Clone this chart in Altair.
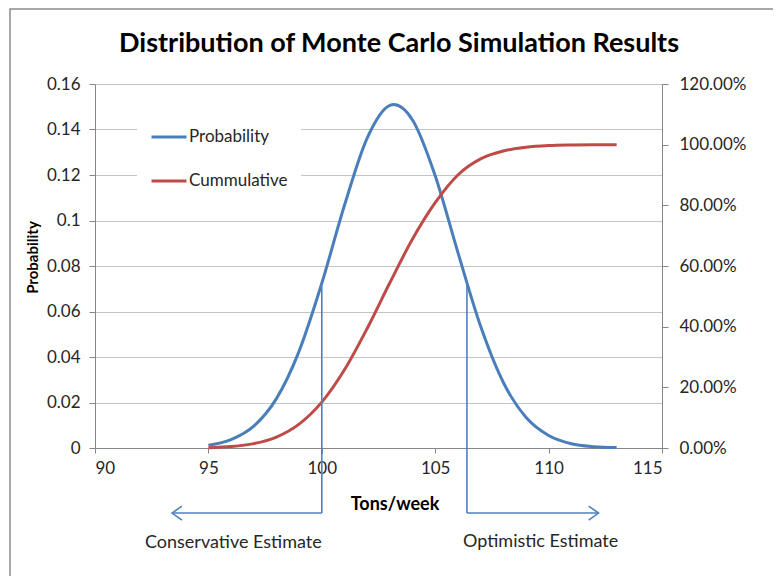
import altair as alt
import pandas as pd

# ---- data ----
tons = [95, 96, 97, 98, 99, 100, 101, 102, 103, 104, 105, 106, 107, 108, 109, 110, 111, 112, 113]
probability = [0.0012, 0.0037, 0.0096, 0.0217, 0.0426, 0.0724, 0.1067, 0.1362, 0.1506, 0.1442,
               0.1197, 0.0860, 0.0536, 0.0289, 0.0135, 0.0055, 0.0019, 0.0006, 0.0002]
cumulative = [0.0012, 0.0049, 0.0145, 0.0362, 0.0788, 0.1512, 0.2579, 0.3941, 0.5447, 0.6889,
              0.8086, 0.9000, 0.9530, 0.9790, 0.9915, 0.9970, 0.9990, 0.9998, 1.0000]

series_names = ["Probability", "Cummulative"]
series_colors = ["#4a7ebb", "#be4b48"]

x_ticks = [90, 95, 100, 105, 110, 115]
left_ticks = [0, 0.02, 0.04, 0.06, 0.08, 0.10, 0.12, 0.14, 0.16]
right_ticks = [0, 0.2, 0.4, 0.6, 0.8, 1.0, 1.2]

title_text = "Distribution of Monte Carlo Simulation Results"

# annotation: estimate markers
marker_x = [100, 106.4]
marker_top = [0.0710, 0.0725]
arrow_tip = [93.4, 112.2]
arrow_level = -0.0286
estimate_labels = ["Conservative Estimate", "Optimistic Estimate"]
estimate_x = [96.1, 109.65]
estimate_y = [-0.0418, -0.0413]

FONT = "Lato"
TXT = "#262626"
ANN = "#4f81bd"

df = pd.DataFrame({"tons": tons, "probability": probability, "cumulative": cumulative})
ann = pd.DataFrame({"x": marker_x, "top": marker_top, "tip": arrow_tip,
                    "level": [arrow_level, arrow_level]})
lab = pd.DataFrame({"label": estimate_labels, "x": estimate_x, "y": estimate_y})

xs = alt.Scale(domain=[90, 115], nice=False, zero=False)
ls = alt.Scale(domain=[0, 0.16], nice=False, zero=False)
rs = alt.Scale(domain=[0, 1.2], nice=False, zero=False)

legend = alt.Legend(title=None, orient="none", legendX=42, legendY=21, direction="vertical",
                    fillColor="white", padding=13, symbolType="stroke", symbolSize=1225,
                    symbolStrokeWidth=3, labelFontSize=17, labelFont=FONT, labelColor=TXT,
                    rowPadding=17, labelOffset=1)
color = alt.Color("series:N", scale=alt.Scale(domain=series_names, range=series_colors),
                  legend=legend)

x_enc = alt.X("tons:Q", scale=xs,
              axis=alt.Axis(values=x_ticks, title="Tons/week", grid=False, tickSize=5,
                            labelPadding=7, titleFontSize=18, titleFontWeight="bold",
                            titleFont=FONT, titleColor="black", titleX=299.5, titleY=56,
                            titleBaseline="middle", titleAlign="center"))

prob = alt.Chart(df).transform_calculate(series="'Probability'").mark_line(
    strokeWidth=3, interpolate="cardinal"
).encode(
    x=x_enc,
    y=alt.Y("probability:Q", scale=ls,
            axis=alt.Axis(values=left_ticks, format="~g", title="Probability", grid=True,
                          tickSize=6, labelPadding=9, titleFontSize=15, titleFontWeight="bold",
                          titleFont=FONT, titleColor="black", titleX=-63, titleY=173,
                          titleAngle=270, titleBaseline="middle", titleAlign="center")),
    color=color,
)

cum = alt.Chart(df).transform_calculate(series="'Cummulative'").mark_line(
    strokeWidth=3, interpolate="monotone"
).encode(
    x=alt.X("tons:Q", scale=xs),
    y=alt.Y("cumulative:Q", scale=rs,
            axis=alt.Axis(values=right_ticks, format=".2%", title=None, grid=False,
                          orient="right", tickSize=6, labelPadding=11)),
    color=color,
)

def ly(field):
    return alt.Y(field, scale=ls, axis=None)

vlines = alt.Chart(ann).mark_rule(color=ANN, strokeWidth=1.6).encode(
    x=alt.X("x:Q", scale=xs), y=ly("top:Q"), y2="level:Q")
hlines = alt.Chart(ann).mark_rule(color=ANN, strokeWidth=1.6).encode(
    x=alt.X("x:Q", scale=xs), x2="tip:Q", y=ly("level:Q"))

left_head = alt.Chart(ann).transform_filter("datum.tip < datum.x").mark_point(
    shape="M1.4,-1L0,0L1.4,1", filled=False, color=ANN, strokeWidth=1.6, size=196, opacity=1
).encode(x=alt.X("tip:Q", scale=xs), y=ly("level:Q"))
right_head = alt.Chart(ann).transform_filter("datum.tip > datum.x").mark_point(
    shape="M-1.4,-1L0,0L-1.4,1", filled=False, color=ANN, strokeWidth=1.6, size=196, opacity=1
).encode(x=alt.X("tip:Q", scale=xs), y=ly("level:Q"))

texts = alt.Chart(lab).mark_text(font=FONT, fontSize=18, color=TXT, align="center",
                                 baseline="middle").encode(
    x=alt.X("x:Q", scale=xs), y=ly("y:Q"), text="label:N")

title = alt.Chart(alt.Data(values=[{"t": title_text}])).mark_text(
    font=FONT, fontSize=27, fontWeight="bold", color="black", align="center",
    baseline="alphabetic"
).encode(x=alt.value(304), y=alt.value(-32), text="t:N")

frame = alt.Chart(alt.Data(values=[{}])).mark_rect(
    fillOpacity=0, stroke="#8c8c8c", strokeWidth=1.5
).encode(x=alt.value(-85), y=alt.value(-75), x2=alt.value(800), y2=alt.value(700))

chart = alt.layer(frame, title, prob, cum, vlines, hlines, left_head, right_head, texts).resolve_scale(
    y="independent"
).properties(
    width=567, height=364,
    autosize=alt.AutoSizeParams(type="none"),
    padding={"left": 87, "top": 76, "right": 111, "bottom": 128},
).configure_view(strokeWidth=0).configure_axis(
    domainColor="#868686", tickColor="#868686", gridColor="#c4c4c4",
    labelFont=FONT, labelFontSize=17, labelColor=TXT, domainWidth=1, tickWidth=1,
)

chart.save("out.html", embed_options={"renderer": "svg", "actions": False})
